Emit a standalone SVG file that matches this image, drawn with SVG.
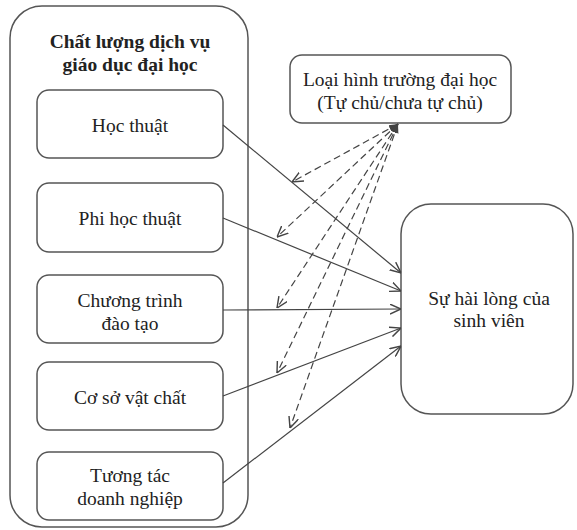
<svg xmlns="http://www.w3.org/2000/svg" width="577" height="530" viewBox="0 0 577 530">
<defs>
<style>
.box{fill:#fff;stroke:#555;stroke-width:1.5}
.t{font-family:"Liberation Serif","Times New Roman",serif;font-size:19.5px;fill:#222;text-anchor:middle}
.b{font-weight:bold}
.s{stroke:#444;stroke-width:1.2;fill:none}
.d{stroke:#444;stroke-width:1.2;fill:none;stroke-dasharray:7 4}
</style>
<marker id="ah" viewBox="0 0 10 10" refX="10" refY="5" markerWidth="11" markerHeight="11" markerUnits="userSpaceOnUse" orient="auto-start-reverse">
<path d="M0,0.5 L10,5 L0,9.5" fill="none" stroke="#444" stroke-width="1.3"/>
</marker>
<marker id="ahf" viewBox="0 0 10 10" refX="10" refY="5" markerWidth="9" markerHeight="9" markerUnits="userSpaceOnUse" orient="auto-start-reverse">
<path d="M0,1 L10,5 L0,9 z" fill="#444"/>
</marker>
</defs>
<g id="container">
<rect class="box" x="10" y="6" width="238" height="521" rx="32"/>
<text class="t b" x="130" y="48">Chất lượng dịch vụ</text>
<text class="t b" x="130" y="71">giáo dục đại học</text>
</g>
<g id="n1"><rect class="box" x="37" y="90" width="186" height="68" rx="12"/><text class="t" x="130" y="132">Học thuật</text></g>
<g id="n2"><rect class="box" x="37" y="183" width="186" height="69" rx="12"/><text class="t" x="130" y="225">Phi học thuật</text></g>
<g id="n3"><rect class="box" x="37" y="275" width="186" height="68" rx="12"/><text class="t" x="130" y="307">Chương trình</text><text class="t" x="130" y="330">đào tạo</text></g>
<g id="n4"><rect class="box" x="37" y="362" width="186" height="68" rx="12"/><text class="t" x="130" y="404">Cơ sở vật chất</text></g>
<g id="n5"><rect class="box" x="37" y="452" width="186" height="68" rx="12"/><text class="t" x="130" y="482">Tương tác</text><text class="t" x="130" y="505">doanh nghiệp</text></g>
<g id="type"><rect class="box" x="290" y="55" width="221" height="68" rx="12"/><text class="t" x="400" y="86">Loại hình trường đại học</text><text class="t" x="400" y="109">(Tự chủ/chưa tự chủ)</text></g>
<g id="sat"><rect class="box" x="401" y="204" width="172" height="210" rx="30"/><text class="t" x="489" y="305">Sự hài lòng của</text><text class="t" x="489" y="327">sinh viên</text></g>
<g id="connectors">
<line class="s" x1="223" y1="125" x2="401" y2="273" marker-end="url(#ah)"/>
<line class="s" x1="223" y1="218" x2="401" y2="291" marker-end="url(#ah)"/>
<line class="s" x1="223" y1="310" x2="401" y2="309" marker-end="url(#ah)"/>
<line class="s" x1="223" y1="396" x2="401" y2="328" marker-end="url(#ah)"/>
<line class="s" x1="223" y1="483" x2="401" y2="346" marker-end="url(#ah)"/>
<line class="d" x1="398" y1="124" x2="292" y2="182" marker-start="url(#ahf)" marker-end="url(#ah)"/>
<line class="d" x1="398" y1="124" x2="277" y2="237" marker-start="url(#ahf)" marker-end="url(#ah)"/>
<line class="d" x1="398" y1="124" x2="277" y2="308" marker-start="url(#ahf)" marker-end="url(#ah)"/>
<line class="d" x1="398" y1="124" x2="277" y2="373" marker-start="url(#ahf)" marker-end="url(#ah)"/>
<line class="d" x1="398" y1="124" x2="290" y2="428" marker-start="url(#ahf)" marker-end="url(#ah)"/>
</g>
</svg>
